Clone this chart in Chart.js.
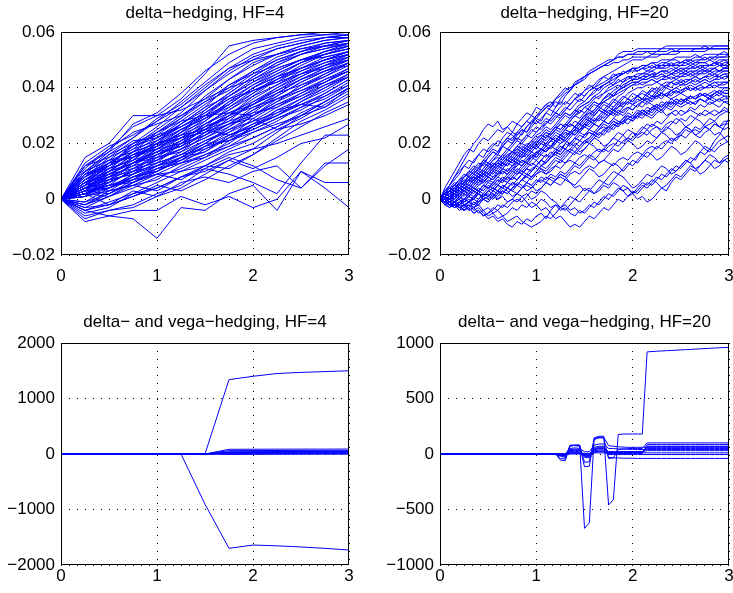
<!DOCTYPE html>
<html>
<head>
<meta charset="utf-8">
<script src="https://cdn.jsdelivr.net/npm/chart.js@4.4.1/dist/chart.umd.min.js"></script>
<style>
  body { margin: 0; background: #fff; }
  #wrap { position: relative; width: 733px; height: 593px; }
  #wrap canvas { position: absolute; }
</style>
</head>
<body>
<div id="wrap">
  <canvas id="tl" width="366" height="296" style="left:0;top:0;width:366px;height:296px"></canvas>
  <canvas id="tr" width="367" height="296" style="left:366px;top:0;width:367px;height:296px"></canvas>
  <canvas id="bl" width="366" height="297" style="left:0;top:296px;width:366px;height:297px"></canvas>
  <canvas id="br" width="367" height="297" style="left:366px;top:296px;width:367px;height:297px"></canvas>
</div>
<script>
// time grids (HF = hedges per unit of time)
const timesHF4 = [0, 0.25, 0.5, 0.75, 1, 1.25, 1.5, 1.75, 2, 2.25, 2.5, 2.75, 3];
const timesHF20 = [0,.05,.1,.15,.2,.25,.3,.35,.4,.45,.5,.55,.6,.65,.7,.75,.8,.85,.9,.95,1,
  1.05,1.1,1.15,1.2,1.25,1.3,1.35,1.4,1.45,1.5,1.55,1.6,1.65,1.7,1.75,1.8,1.85,1.9,1.95,2,
  2.05,2.1,2.15,2.2,2.25,2.3,2.35,2.4,2.45,2.5,2.55,2.6,2.65,2.7,2.75,2.8,2.85,2.9,2.95,3];

const xTicks = [0, 1, 2, 3];
const xLabels = ['0', '1', '2', '3'];
const deltaTicks = [-0.02, 0, 0.02, 0.04, 0.06];
const deltaLabels = ['\u22120.02', '0', '0.02', '0.04', '0.06'];
const vegaTicksHF4 = [-2000, -1000, 0, 1000, 2000];
const vegaLabelsHF4 = ['\u22122000', '\u22121000', '0', '1000', '2000'];
const vegaTicksHF20 = [-1000, -500, 0, 500, 1000];
const vegaLabelsHF20 = ['\u22121000', '\u2212500', '0', '500', '1000'];

// delta-hedging, HF=4
const deltaHF4 = [
  [0,.015,.02,.03,.03,.036,.045,.055,.057,.058,.059,.06,.06],
  [0,.012,.017,.027,.031,.038,.046,.052,.056,.058,.059,.059,.06],
  [0,.009,.016,.022,.028,.035,.042,.049,.054,.056,.058,.059,.059],
  [0,.01,.014,.02,.026,.033,.04,.047,.052,.055,.057,.058,.059],
  [0,.007,.012,.019,.025,.031,.039,.045,.05,.054,.056,.058,.058],
  [0,.005,.011,.017,.024,.03,.036,.043,.049,.052,.055,.057,.058],
  [0,.008,.015,.021,.022,.028,.034,.04,.046,.05,.053,.056,.057],
  [0,.004,.009,.014,.02,.027,.033,.041,.046,.051,.054,.056,.057],
  [0,.006,.01,.016,.019,.024,.032,.038,.044,.049,.053,.055,.056],
  [0,.011,.018,.024,.027,.03,.035,.039,.045,.048,.052,.054,.056],
  [0,.003,.008,.012,.017,.022,.028,.035,.041,.046,.05,.053,.055],
  [0,.006,.009,.013,.015,.021,.027,.032,.038,.043,.048,.052,.054],
  [0,.002,.006,.01,.014,.02,.025,.03,.037,.043,.047,.05,.053],
  [0,.005,.013,.018,.021,.025,.029,.033,.039,.042,.047,.05,.052],
  [0,.001,.004,.009,.012,.017,.023,.029,.034,.04,.045,.049,.052],
  [0,.004,.007,.011,.016,.019,.024,.028,.035,.039,.044,.048,.051],
  [0,.009,.012,.016,.018,.024,.03,.036,.039,.042,.045,.048,.05],
  [0,.003,.005,.008,.011,.015,.02,.026,.031,.037,.042,.046,.049],
  [0,-.002,.002,.006,.01,.014,.019,.024,.03,.035,.041,.045,.049],
  [0,.007,.011,.014,.02,.023,.027,.031,.034,.038,.043,.046,.048],
  [0,.002,.004,.009,.013,.016,.021,.025,.028,.033,.038,.043,.047],
  [0,.005,.008,.012,.014,.018,.022,.027,.029,.034,.037,.042,.046],
  [0,.001,.003,.005,.007,.012,.016,.02,.026,.031,.036,.041,.045],
  [0,.004,.006,.01,.012,.014,.019,.023,.027,.03,.035,.039,.044],
  [0,-.003,.001,.004,.008,.011,.015,.021,.024,.028,.033,.038,.043],
  [0,.006,.009,.011,.013,.016,.018,.022,.025,.029,.032,.037,.042],
  [0,.003,.004,.007,.009,.01,.014,.018,.022,.026,.031,.035,.04],
  [0,-.004,-.001,.002,.004,.008,.012,.017,.02,.025,.029,.034,.039],
  [0,.002,.005,.006,.011,.013,.015,.019,.024,.027,.03,.033,.038],
  [0,.008,.012,.02,.024,.028,.03,.031,.03,.034,.038,.042,.047],
  [0,.012,.018,.026,.03,.032,.036,.04,.043,.047,.05,.051,.053],
  [0,.01,.017,.022,.029,.034,.041,.047,.05,.052,.054,.055,.055],
  [0,.003,.002,.006,.01,.015,.02,.021,.026,.03,.035,.04,.044],
  [0,.005,.01,.013,.018,.02,.025,.031,.035,.04,.044,.048,.052],
  [0,.001,.006,.01,.016,.019,.026,.033,.038,.044,.049,.053,.056],
  [0,-.005,-.003,.002,.006,.01,.012,.016,.018,.02,.023,.026,.029],
  [0,-.004,-.002,.001,.004,.008,.011,.009,.006,.002,.013,.023,.023],
  [0,-.006,-.004,-.002,.002,.005,.011,.015,.012,.007,.004,.013,.013],
  [0,-.004,-.006,-.007,-.014,-.003,-.004,.002,.005,-.004,.01,.006,.006],
  [0,-.008,-.006,-.004,-.004,.001,-.002,.001,-.003,0,.01,.004,-.003],
  [0,-.003,-.002,.003,.001,.006,.008,.006,.01,.012,.004,.012,.018],
  [0,-.007,-.004,-.003,.001,.004,.009,.014,.018,.024,.03,.035,.04],
  [0,.002,-.002,.001,.005,.003,.007,.012,.016,.022,.028,.032,.037],
  [0,.006,.003,.008,.01,.015,.017,.022,.029,.025,.027,.03,.034],
  [0,.004,.008,.015,.02,.023,.025,.023,.026,.032,.034,.033,.04],
  [0,.008,.013,.019,.023,.029,.037,.043,.048,.052,.055,.057,.058],
  [0,.006,.012,.017,.022,.026,.031,.037,.043,.048,.052,.055,.057],
  [0,.002,.007,.013,.019,.025,.03,.034,.04,.045,.049,.052,.054],
  [0,.01,.014,.015,.019,.024,.028,.034,.04,.044,.047,.05,.052],
  [0,.004,.01,.016,.021,.027,.033,.037,.042,.046,.05,.053,.055],
  [0,-.002,.003,.005,.003,.008,.01,.014,.011,.015,.02,.022,.027],
  [0,.002,.001,.006,.009,.007,.012,.011,.016,.021,.026,.031,.035],
  [0,.013,.019,.023,.028,.033,.039,.046,.051,.054,.056,.058,.059],
  [0,.009,.013,.018,.024,.029,.035,.041,.045,.05,.053,.055,.057],
  [0,.007,.013,.015,.021,.026,.03,.037,.042,.047,.05,.052,.055],
  [0,.003,.01,.015,.018,.023,.029,.034,.04,.044,.047,.051,.053],
  [0,.006,.008,.012,.018,.022,.026,.03,.036,.041,.046,.049,.051],
  [0,.002,.005,.011,.015,.018,.024,.03,.033,.037,.042,.046,.05],
  [0,.001,.007,.009,.013,.02,.023,.027,.032,.036,.04,.044,.048],
  [0,.004,.004,.008,.012,.016,.02,.025,.03,.036,.039,.043,.046],
  [0,-.001,.002,.007,.011,.013,.018,.022,.027,.032,.036,.04,.045],
  [0,.005,.007,.009,.015,.017,.021,.024,.028,.031,.034,.038,.043],
  [0,.008,.014,.017,.02,.022,.026,.029,.034,.038,.041,.044,.049],
  [0,.003,.009,.013,.016,.021,.025,.028,.031,.033,.037,.041,.044],
  [0,-.001,.004,.008,.01,.014,.017,.023,.026,.03,.034,.037,.041],
  [0,.01,.016,.02,.023,.026,.031,.036,.041,.045,.049,.052,.054],
  [0,.007,.01,.013,.017,.021,.025,.03,.034,.039,.043,.047,.05],
  [0,.002,.008,.01,.014,.018,.022,.026,.032,.038,.043,.047,.051],
  [0,.005,.011,.014,.017,.019,.023,.027,.03,.035,.039,.042,.046],
  [0,.004,.006,.013,.016,.02,.027,.032,.037,.041,.045,.047,.05],
  [0,.012,.015,.019,.022,.027,.032,.038,.044,.049,.052,.054,.056],
  [0,-.002,.001,.005,.009,.013,.016,.019,.022,.026,.03,.035,.04],
  [0,.006,.012,.016,.019,.022,.024,.027,.033,.036,.04,.045,.049],
  [0,.003,.005,.007,.012,.015,.019,.021,.025,.029,.033,.036,.041],
  [0,.009,.011,.017,.02,.025,.029,.035,.039,.043,.046,.05,.053]
];

// delta-hedging, HF=20
const deltaHF20 = [
  [0,.002,.004,.003,.006,.008,.009,.011,.010,.013,.015,.017,.016,.019,.021,.022,.024,.023,.026,.028,.030,.031,.033,.034,.036,.037,.039,.040,.041,.042,.043,.045,.046,.047,.048,.049,.050,.052,.053,.053,.053,.054,.054,.054,.054,.054,.054,.055,.055,.055,.055,.055,.055,.055,.055,.055,.055,.055,.055,.055,.055],
  [0,.002,.005,.008,.011,.014,.017,.020,.022,.025,.027,.026,.028,.025,.026,.024,.027,.029,.031,.030,.033,.032,.034,.035,.033,.036,.038,.039,.041,.042,.044,.045,.046,.047,.048,.049,.050,.051,.051,.052,.052,.053,.053,.053,.053,.053,.054,.054,.054,.054,.054,.054,.054,.054,.054,.054,.054,.054,.054,.054,.054],
  [0,.001,.003,.005,.004,.006,.008,.007,.009,.011,.013,.012,.014,.016,.018,.017,.019,.021,.023,.022,.024,.026,.027,.029,.031,.030,.032,.034,.036,.037,.039,.040,.041,.043,.044,.045,.046,.047,.048,.049,.050,.050,.050,.051,.051,.051,.052,.052,.052,.052,.053,.053,.053,.053,.053,.053,.054,.054,.054,.054,.054],
  [0,-.001,.001,.002,.004,.003,.005,.007,.006,.008,.010,.009,.011,.013,.012,.014,.016,.015,.017,.019,.021,.020,.022,.024,.026,.025,.027,.029,.031,.033,.034,.035,.037,.038,.040,.041,.042,.044,.045,.046,.047,.047,.048,.048,.049,.048,.049,.049,.050,.050,.049,.050,.050,.051,.051,.050,.051,.051,.052,.052,.052],
  [0,.002,.003,.005,.007,.009,.008,.010,.012,.014,.013,.015,.017,.019,.018,.020,.022,.021,.023,.025,.024,.026,.028,.027,.029,.031,.033,.032,.034,.036,.035,.037,.039,.040,.041,.042,.044,.045,.045,.046,.047,.046,.047,.048,.047,.048,.048,.049,.048,.049,.049,.050,.049,.050,.050,.051,.050,.051,.051,.051,.052],
  [0,.001,0,.002,.003,.002,.004,.006,.005,.007,.009,.011,.010,.012,.014,.013,.015,.017,.016,.018,.020,.022,.021,.023,.025,.024,.026,.028,.030,.029,.031,.033,.035,.034,.036,.038,.037,.039,.041,.042,.043,.043,.044,.045,.044,.045,.046,.046,.045,.046,.047,.046,.047,.047,.048,.047,.048,.048,.049,.048,.049],
  [0,-.002,-.001,-.003,-.001,0,.002,.001,.003,.005,.004,.006,.008,.007,.009,.011,.013,.012,.014,.016,.015,.017,.019,.021,.020,.022,.024,.023,.025,.027,.029,.028,.030,.032,.034,.033,.035,.037,.038,.040,.041,.042,.041,.042,.043,.042,.043,.044,.043,.044,.044,.045,.044,.045,.045,.046,.045,.046,.046,.047,.047],
  [0,.003,.005,.007,.009,.012,.011,.014,.016,.015,.018,.020,.019,.022,.024,.023,.021,.024,.026,.028,.027,.029,.031,.030,.033,.035,.034,.036,.038,.037,.039,.041,.040,.042,.044,.043,.045,.044,.046,.045,.047,.046,.047,.046,.047,.048,.047,.048,.048,.047,.048,.048,.049,.048,.049,.049,.048,.049,.049,.050,.049],
  [0,.001,.002,.001,.003,.005,.004,.006,.008,.010,.009,.011,.013,.012,.014,.013,.015,.017,.019,.018,.020,.022,.024,.023,.025,.027,.026,.028,.030,.032,.031,.033,.035,.034,.036,.038,.037,.039,.040,.041,.042,.042,.043,.043,.044,.043,.044,.044,.045,.044,.045,.045,.046,.045,.046,.046,.046,.047,.046,.047,.047],
  [0,0,-.002,-.001,.001,0,.002,.004,.003,.005,.007,.006,.008,.010,.009,.011,.010,.012,.014,.016,.015,.017,.019,.018,.020,.022,.021,.023,.025,.027,.026,.028,.030,.032,.031,.033,.035,.034,.036,.038,.039,.040,.040,.041,.041,.042,.041,.042,.042,.043,.042,.043,.043,.044,.043,.044,.044,.045,.044,.045,.045],
  [0,.004,.007,.010,.013,.016,.018,.017,.020,.022,.021,.023,.025,.024,.026,.028,.027,.026,.028,.030,.029,.031,.033,.032,.031,.033,.035,.034,.036,.038,.037,.039,.040,.039,.041,.042,.041,.043,.042,.044,.043,.044,.043,.044,.045,.044,.045,.044,.045,.046,.045,.046,.045,.046,.046,.047,.046,.047,.046,.047,.047],
  [0,-.001,-.003,-.002,-.004,-.003,-.001,-.002,0,.002,.001,.003,.005,.004,.006,.008,.007,.009,.011,.010,.012,.014,.016,.015,.017,.019,.018,.020,.022,.024,.023,.025,.027,.026,.028,.030,.032,.031,.033,.035,.034,.035,.036,.036,.037,.037,.038,.037,.038,.039,.038,.039,.040,.039,.040,.040,.041,.040,.041,.041,.042],
  [0,.002,.004,.003,.005,.007,.006,.008,.010,.009,.011,.013,.012,.014,.016,.015,.017,.016,.018,.020,.019,.021,.023,.022,.024,.023,.025,.027,.026,.028,.030,.029,.031,.033,.032,.034,.033,.035,.037,.036,.038,.037,.039,.038,.040,.039,.041,.040,.042,.041,.042,.041,.042,.043,.042,.043,.042,.043,.044,.043,.044],
  [0,-.002,-.003,-.001,-.002,0,-.001,.001,.003,.002,.004,.003,.005,.007,.006,.008,.010,.009,.011,.013,.012,.014,.016,.015,.017,.019,.018,.020,.022,.021,.023,.025,.024,.026,.028,.027,.029,.031,.030,.032,.034,.033,.035,.036,.035,.037,.038,.037,.039,.040,.039,.040,.041,.040,.041,.042,.041,.042,.042,.042,.042],
  [0,.001,.003,.005,.004,.006,.008,.010,.009,.011,.013,.012,.014,.016,.015,.017,.019,.018,.020,.019,.021,.023,.022,.024,.026,.025,.027,.026,.028,.027,.029,.031,.030,.032,.031,.033,.032,.034,.033,.035,.034,.036,.035,.037,.036,.038,.037,.038,.039,.038,.039,.040,.039,.040,.039,.040,.040,.041,.040,.040,.040],
  [0,0,.001,-.001,0,.002,.001,.003,.002,.004,.006,.005,.007,.006,.008,.010,.009,.011,.013,.012,.014,.016,.015,.017,.016,.018,.020,.019,.021,.023,.022,.024,.023,.025,.027,.026,.028,.027,.029,.031,.030,.032,.031,.033,.032,.034,.033,.035,.034,.036,.035,.036,.037,.036,.037,.038,.037,.038,.039,.038,.038],
  [0,.002,.001,.003,.005,.004,.006,.008,.007,.009,.008,.010,.012,.011,.013,.015,.014,.016,.018,.017,.019,.021,.020,.022,.021,.023,.025,.024,.026,.025,.027,.029,.028,.030,.029,.031,.030,.032,.031,.033,.032,.034,.033,.035,.034,.033,.035,.034,.036,.035,.034,.036,.035,.034,.036,.035,.037,.036,.035,.036,.036],
  [0,-.001,-.002,-.003,-.002,-.004,-.003,-.005,-.004,-.006,-.005,-.003,-.004,-.002,-.003,-.001,0,-.001,.001,.003,.002,.004,.006,.005,.007,.009,.008,.010,.012,.011,.013,.015,.014,.016,.018,.017,.019,.021,.020,.022,.024,.023,.025,.027,.026,.028,.027,.029,.031,.030,.032,.031,.033,.032,.034,.033,.035,.034,.033,.035,.034],
  [0,-.001,0,-.002,-.001,-.003,-.002,-.004,-.003,-.005,-.007,-.006,-.008,-.007,-.009,-.010,-.008,-.009,-.007,-.008,-.006,-.005,-.007,-.004,-.002,-.003,-.001,.001,0,.002,.004,.003,.005,.007,.006,.008,.010,.009,.011,.013,.012,.014,.016,.015,.017,.019,.018,.020,.022,.021,.023,.025,.024,.026,.025,.027,.029,.028,.030,.031,.032],
  [0,.001,-.001,0,-.002,-.001,.001,0,.002,.001,.003,.002,0,.001,-.001,0,.002,.001,-.001,-.003,-.002,-.004,-.003,-.005,-.007,-.006,-.008,-.010,-.009,-.010,-.008,-.006,-.007,-.005,-.003,-.004,-.002,0,-.001,.001,.003,.002,.004,.006,.005,.007,.009,.008,.010,.012,.011,.013,.015,.014,.017,.019,.018,.021,.023,.026,.029],
  [0,-.001,-.002,-.001,-.003,-.002,-.004,-.003,-.002,-.004,-.003,-.005,-.004,-.006,-.005,-.003,-.004,-.002,-.003,-.001,-.002,0,-.001,-.003,-.002,-.004,-.003,-.005,-.006,-.004,-.005,-.003,-.001,-.002,0,.002,.001,.003,.005,.004,.002,0,.001,-.001,0,.002,.004,.003,.006,.008,.007,.009,.011,.010,.012,.014,.013,.011,.012,.014,.013],
  [0,-.001,0,-.002,-.003,-.002,-.004,-.003,-.005,-.004,-.006,-.005,-.007,-.006,-.008,-.007,-.006,-.008,-.009,-.010,-.009,-.008,-.006,-.007,-.005,-.003,-.004,-.002,0,-.001,.001,.003,.002,.004,.006,.005,.007,.009,.008,.006,.004,.005,.007,.009,.008,.010,.012,.011,.009,.010,.012,.014,.013,.011,.012,.014,.016,.015,.013,.014,.015],
  [0,0,-.001,.001,0,-.002,-.001,.001,.002,0,.001,.003,.002,.004,.003,.001,.002,.004,.006,.005,.003,.004,.006,.008,.007,.009,.008,.006,.005,.007,.009,.011,.010,.008,.009,.011,.013,.012,.010,.012,.014,.013,.015,.017,.016,.014,.015,.017,.019,.018,.016,.017,.019,.021,.020,.018,.017,.019,.021,.022,.020],
  [0,.001,.002,.004,.003,.005,.007,.006,.008,.007,.009,.008,.010,.009,.011,.010,.012,.014,.013,.015,.014,.012,.013,.015,.017,.016,.018,.020,.019,.017,.018,.020,.022,.021,.019,.020,.022,.024,.023,.021,.022,.024,.026,.025,.023,.022,.024,.026,.025,.023,.024,.026,.025,.023,.022,.024,.025,.023,.024,.022,.023],
  [0,-.002,-.001,-.003,-.002,0,-.001,.001,0,.002,.001,.003,.005,.004,.006,.005,.007,.009,.008,.010,.012,.011,.009,.010,.012,.014,.013,.015,.017,.016,.018,.020,.019,.017,.018,.020,.022,.021,.023,.025,.024,.022,.023,.025,.027,.026,.024,.025,.027,.029,.028,.026,.027,.029,.028,.026,.027,.028,.026,.027,.027],
  [0,.001,.003,.002,.004,.006,.005,.007,.009,.008,.010,.012,.011,.013,.015,.014,.016,.015,.017,.019,.018,.020,.019,.021,.023,.022,.024,.023,.025,.024,.026,.025,.027,.026,.028,.027,.029,.028,.027,.029,.030,.029,.031,.030,.029,.031,.032,.030,.031,.032,.030,.031,.032,.031,.030,.032,.031,.030,.031,.032,.031],
  [0,.003,.005,.008,.010,.012,.014,.013,.016,.018,.017,.019,.021,.020,.022,.024,.023,.025,.024,.026,.028,.027,.029,.028,.030,.029,.031,.030,.032,.031,.033,.032,.034,.033,.035,.034,.036,.035,.034,.036,.035,.037,.036,.035,.037,.036,.038,.037,.036,.037,.038,.037,.036,.037,.038,.037,.036,.037,.038,.037,.037],
  [0,.001,.002,.004,.006,.005,.007,.009,.011,.010,.012,.014,.016,.015,.017,.019,.021,.020,.022,.024,.026,.025,.027,.029,.031,.030,.032,.034,.036,.035,.037,.039,.040,.041,.042,.043,.044,.045,.045,.046,.046,.046,.047,.047,.048,.047,.048,.048,.049,.048,.049,.049,.050,.049,.050,.050,.051,.050,.051,.051,.051],
  [0,0,.001,0,.002,.001,.003,.002,.004,.003,.005,.004,.006,.008,.007,.009,.011,.010,.012,.014,.016,.018,.017,.019,.021,.023,.025,.024,.026,.028,.030,.032,.031,.033,.035,.036,.038,.039,.040,.041,.042,.042,.043,.043,.044,.044,.045,.044,.045,.045,.046,.045,.046,.046,.047,.046,.047,.047,.048,.047,.048],
  [0,.002,.004,.006,.005,.008,.010,.012,.011,.014,.016,.018,.017,.020,.022,.021,.024,.026,.028,.027,.030,.032,.034,.033,.036,.038,.040,.039,.042,.043,.044,.045,.046,.047,.048,.048,.049,.049,.050,.050,.051,.051,.051,.051,.052,.052,.052,.052,.053,.053,.053,.053,.053,.054,.054,.054,.054,.054,.054,.054,.054],
  [0,-.001,.001,0,.002,.004,.003,.005,.007,.006,.008,.010,.009,.011,.013,.012,.014,.016,.015,.017,.016,.018,.020,.019,.021,.023,.022,.024,.026,.025,.027,.029,.028,.030,.032,.031,.033,.035,.034,.036,.035,.037,.036,.038,.037,.039,.038,.040,.039,.040,.041,.041,.042,.041,.042,.043,.042,.043,.043,.044,.044],
  [0,.001,0,.002,.001,-.001,0,-.002,-.001,.001,0,.002,.001,.003,.002,.004,.006,.005,.003,.004,.006,.008,.007,.009,.008,.010,.009,.011,.013,.012,.014,.016,.015,.013,.014,.016,.018,.017,.019,.021,.020,.018,.019,.021,.020,.022,.024,.023,.021,.022,.024,.026,.025,.023,.024,.026,.025,.027,.026,.025,.026],
  [0,.002,.001,.003,.002,.004,.003,.005,.007,.006,.008,.007,.009,.011,.010,.012,.014,.013,.015,.017,.019,.018,.020,.022,.021,.023,.025,.027,.026,.028,.030,.031,.032,.034,.035,.036,.037,.038,.039,.040,.041,.041,.042,.042,.043,.042,.043,.043,.044,.043,.044,.044,.045,.044,.045,.045,.046,.045,.046,.046,.046],
  [0,-.002,-.001,-.003,-.002,-.004,-.002,-.003,-.001,0,-.001,.001,.003,.002,.004,.006,.005,.007,.009,.008,.010,.012,.011,.013,.015,.014,.016,.018,.017,.019,.021,.020,.022,.024,.023,.025,.027,.026,.028,.030,.029,.031,.030,.032,.031,.033,.032,.034,.033,.035,.034,.035,.034,.035,.036,.035,.034,.035,.036,.035,.035],
  [0,-.001,-.002,-.001,-.003,-.002,-.001,-.003,-.002,0,-.001,.001,0,.002,.004,.003,.005,.007,.009,.008,.010,.012,.014,.016,.018,.017,.020,.022,.024,.026,.028,.030,.032,.034,.036,.037,.039,.040,.042,.043,.044,.044,.045,.045,.046,.045,.046,.046,.047,.046,.047,.047,.048,.047,.048,.048,.048,.049,.048,.049,.049],
  [0,.002,.003,.005,.007,.006,.009,.011,.013,.012,.015,.017,.016,.019,.021,.020,.023,.025,.024,.027,.029,.028,.031,.033,.035,.034,.037,.039,.041,.043,.044,.046,.047,.048,.049,.050,.050,.051,.051,.052,.052,.052,.052,.053,.052,.053,.053,.053,.054,.053,.054,.054,.054,.054,.054,.055,.054,.055,.055,.055,.055],
  [0,.001,0,.002,.001,.003,.002,.004,.003,.005,.004,.006,.005,.007,.006,.008,.007,.009,.011,.010,.012,.014,.013,.015,.017,.016,.018,.017,.019,.021,.020,.022,.024,.023,.025,.024,.026,.028,.027,.029,.028,.030,.032,.031,.033,.032,.034,.033,.035,.034,.036,.035,.037,.036,.038,.037,.036,.038,.037,.039,.039],
  [0,0,-.002,-.001,-.003,-.004,-.003,-.005,-.004,-.006,-.005,-.004,-.002,-.003,-.001,0,-.001,.001,.002,0,.001,.003,.002,0,-.001,-.003,-.002,-.004,-.003,-.005,-.004,-.002,-.003,-.001,.001,0,.002,.004,.003,.001,.002,.004,.006,.005,.007,.006,.004,.005,.007,.009,.008,.010,.012,.011,.009,.010,.012,.014,.013,.015,.016],
  [0,.001,.002,.003,.002,.004,.005,.004,.006,.007,.006,.008,.009,.011,.010,.012,.013,.012,.014,.015,.017,.016,.018,.019,.021,.020,.022,.024,.023,.025,.026,.028,.027,.029,.031,.030,.032,.033,.035,.034,.036,.037,.036,.038,.039,.038,.040,.041,.040,.042,.041,.042,.043,.042,.043,.044,.043,.044,.044,.045,.044],
  [0,.002,.001,.003,.004,.006,.005,.007,.008,.010,.009,.011,.013,.012,.014,.016,.017,.019,.018,.020,.022,.023,.025,.024,.026,.028,.030,.029,.031,.033,.034,.035,.037,.036,.038,.039,.040,.041,.040,.042,.043,.043,.044,.044,.045,.045,.046,.045,.046,.047,.046,.047,.047,.048,.047,.048,.048,.049,.048,.048,.048],
  [0,-.001,0,.001,0,.002,.001,.003,.002,.001,.003,.004,.003,.005,.004,.006,.005,.007,.008,.007,.009,.010,.009,.011,.012,.011,.013,.014,.013,.015,.016,.015,.017,.018,.017,.019,.020,.019,.021,.022,.021,.023,.024,.023,.025,.026,.025,.027,.028,.027,.029,.028,.030,.029,.031,.030,.031,.032,.031,.033,.032],
  [0,.001,.003,.004,.006,.005,.007,.009,.008,.010,.012,.011,.013,.015,.014,.016,.018,.017,.019,.021,.020,.022,.024,.023,.025,.027,.026,.028,.030,.031,.033,.034,.036,.037,.038,.040,.041,.042,.043,.044,.044,.045,.045,.046,.046,.047,.047,.047,.048,.048,.048,.049,.048,.049,.049,.049,.050,.049,.050,.050,.050],
  [0,-.001,-.002,-.001,-.003,-.002,-.003,-.001,-.002,0,.001,0,.002,.003,.002,.004,.005,.007,.006,.008,.009,.011,.010,.012,.014,.013,.015,.017,.016,.018,.020,.021,.023,.022,.024,.026,.025,.027,.028,.027,.029,.030,.031,.030,.032,.033,.032,.034,.035,.034,.036,.035,.037,.036,.038,.037,.038,.039,.038,.040,.040],
  [0,.002,.003,.002,.004,.006,.007,.006,.008,.009,.011,.010,.012,.013,.012,.014,.013,.015,.016,.015,.017,.018,.017,.019,.018,.020,.021,.020,.022,.021,.023,.024,.023,.025,.026,.025,.027,.026,.028,.029,.028,.030,.029,.031,.030,.032,.031,.033,.032,.034,.033,.034,.035,.034,.036,.035,.036,.035,.036,.037,.036],
  [0,0,.001,.002,.001,.003,.004,.003,.005,.006,.008,.007,.009,.010,.009,.011,.012,.014,.013,.015,.016,.018,.017,.019,.020,.022,.021,.023,.025,.024,.026,.027,.029,.028,.030,.032,.031,.033,.034,.036,.035,.037,.038,.037,.039,.040,.039,.041,.042,.041,.043,.042,.043,.044,.043,.044,.045,.044,.045,.046,.046],
  [0,.001,0,-.001,0,-.002,-.001,0,-.001,.001,.002,.001,.003,.002,.004,.003,.002,.004,.005,.004,.006,.007,.006,.005,.007,.008,.007,.009,.010,.009,.011,.012,.011,.013,.014,.013,.012,.014,.015,.014,.016,.017,.016,.018,.019,.018,.020,.021,.020,.022,.023,.022,.024,.025,.024,.026,.025,.027,.026,.028,.028],
  [0,.001,.002,.004,.003,.005,.007,.008,.007,.009,.011,.012,.014,.013,.015,.017,.018,.020,.019,.021,.023,.024,.026,.025,.027,.029,.031,.030,.032,.034,.035,.037,.038,.040,.041,.042,.043,.044,.045,.046,.047,.047,.048,.048,.049,.049,.050,.050,.050,.051,.051,.051,.051,.052,.051,.052,.052,.052,.052,.053,.052],
  [0,.002,.004,.005,.007,.008,.010,.009,.011,.013,.012,.014,.015,.014,.016,.017,.016,.018,.017,.019,.018,.020,.019,.021,.022,.021,.023,.024,.023,.025,.027,.026,.028,.029,.028,.030,.031,.030,.032,.033,.032,.034,.035,.034,.036,.037,.036,.038,.037,.039,.038,.040,.039,.040,.041,.040,.041,.042,.041,.042,.042],
  [0,0,-.001,-.002,-.001,0,.001,0,.002,.001,.003,.004,.003,.005,.004,.006,.005,.004,.006,.005,.007,.006,.008,.007,.006,.005,.007,.006,.004,.005,.003,.004,.002,.003,.005,.004,.006,.005,.003,.004,.002,.003,.005,.004,.006,.008,.007,.009,.011,.010,.012,.014,.013,.015,.017,.016,.018,.017,.019,.020,.021],
  [0,.001,0,.001,.002,.003,.002,.004,.003,.005,.004,.005,.007,.006,.008,.007,.009,.010,.009,.011,.012,.014,.013,.015,.016,.015,.017,.018,.020,.019,.021,.022,.024,.023,.025,.026,.028,.027,.029,.030,.029,.031,.032,.031,.033,.034,.033,.035,.034,.036,.035,.036,.037,.036,.037,.038,.037,.038,.039,.038,.038]
];

// delta- and vega-hedging, HF=4
const vegaHF4 = [
  [0,0,0,0,0,0,0,1340,1400,1450,1470,1485,1500],
  [0,0,0,0,0,0,-905,-1700,-1640,-1655,-1675,-1700,-1730],
  [0,0,0,0,0,0,0,85,86,87,88,88,89],
  [0,0,0,0,0,0,0,60,62,63,65,66,66],
  [0,0,0,0,0,0,0,40,42,44,45,46,47],
  [0,0,0,0,0,0,0,25,27,28,30,30,31],
  [0,0,0,0,0,0,0,12,14,15,16,17,18],
  [0,0,0,0,0,0,0,5,6,7,8,8,9],
  [0,0,0,0,0,0,-5,30,35,38,40,42,43],
  [0,0,0,0,0,0,0,-8,-6,-5,-4,-3,-3]
];

// delta- and vega-hedging, HF=20
const vegaHF20 = [
  [0,0,0,0,0,0,0,0,0,0,0,0,0,0,0,0,0,0,0,0,0,0,0,0,0,
   -40,-45,80,80,80,-670,-620,145,160,160,-460,-410,175,180,180,180,180,180,920,923,
   926,928,931,933,935,938,940,942,945,947,950,952,955,957,959,960],
  [0,0,0,0,0,0,0,0,0,0,0,0,0,0,0,0,0,0,0,0,0,0,0,0,0,
   -20,-30,75,75,70,-115,-110,140,150,150,75,70,65,62,60,60,60,60,60,60,
   60,60,60,60,60,60,60,60,60,60,60,60,60,60,60,60],
  [0,0,0,0,0,0,0,0,0,0,0,0,0,0,0,0,0,0,0,0,0,0,0,0,0,
   -55,-60,70,80,80,-75,-70,130,145,145,-40,-35,40,45,48,50,50,50,100,100,
   100,100,100,100,100,100,100,100,100,100,100,100,100,100,100,100],
  [0,0,0,0,0,0,0,0,0,0,0,0,0,0,0,0,0,0,0,0,0,0,0,0,0,
   -10,-15,40,45,40,-30,-35,60,70,70,-30,-35,-35,-38,-38,-38,-40,-40,-40,-40,
   -40,-40,-40,-40,-40,-40,-40,-40,-40,-40,-40,-40,-40,-40,-40,-40],
  [0,0,0,0,0,0,0,0,0,0,0,0,0,0,0,0,0,0,0,0,0,0,0,0,0,
   0,0,50,55,50,20,20,80,90,90,50,50,45,45,42,42,40,40,40,40,
   40,40,40,40,40,40,40,40,40,40,40,40,40,40,40,40],
  [0,0,0,0,0,0,0,0,0,0,0,0,0,0,0,0,0,0,0,0,0,0,0,0,0,
   0,0,10,12,10,5,5,30,35,35,20,20,18,18,20,20,20,20,30,30,
   30,30,30,30,30,30,30,30,30,30,30,30,30,30,30,30],
  [0,0,0,0,0,0,0,0,0,0,0,0,0,0,0,0,0,0,0,0,0,0,0,0,0,
   -5,-8,20,25,20,-10,-10,40,45,45,10,10,12,12,12,12,12,12,70,70,
   70,70,70,70,70,70,70,70,70,70,70,70,70,70,70,70],
  [0,0,0,0,0,0,0,0,0,0,0,0,0,0,0,0,0,0,0,0,0,0,0,0,0,
   0,0,5,5,5,0,0,15,20,20,8,8,8,8,10,10,10,10,10,10,
   10,10,10,10,10,10,10,10,10,10,10,10,10,10,10,10],
  [0,0,0,0,0,0,0,0,0,0,0,0,0,0,0,0,0,0,0,0,0,0,0,0,0,
   -15,-20,30,35,30,-20,-25,50,60,60,20,20,22,22,22,22,22,22,50,50,
   50,50,50,50,50,50,50,50,50,50,50,50,50,50,50,50],
  [0,0,0,0,0,0,0,0,0,0,0,0,0,0,0,0,0,0,0,0,0,0,0,0,0,
   0,0,0,0,0,0,0,10,10,10,5,5,5,5,5,5,5,5,85,85,
   85,85,85,85,85,85,85,85,85,85,85,85,85,85,85,85],
  [0,0,0,0,0,0,0,0,0,0,0,0,0,0,0,0,0,0,0,0,0,0,0,0,0,
   -3,-5,10,10,10,-8,-8,20,25,25,-5,-5,-5,-5,-5,-5,-5,-5,-5,-5,
   -5,-5,-5,-5,-5,-5,-5,-5,-5,-5,-5,-5,-5,-5,-5,-5],
  [0,0,0,0,0,0,0,0,0,0,0,0,0,0,0,0,0,0,0,0,0,0,0,0,0,
   -8,-10,30,35,30,-15,-15,45,50,50,15,15,15,15,15,15,15,15,65,65,
   65,65,65,65,65,65,65,65,65,65,65,65,65,65,65,65]
];

const FONT = '"Liberation Sans", Arial, Helvetica, sans-serif';

// MATLAB-like closed axes box
const axesBox = {
  id: 'axesBox',
  afterDatasetsDraw(chart) {
    const a = chart.chartArea, ctx = chart.ctx;
    ctx.save();
    ctx.strokeStyle = '#000';
    ctx.lineWidth = 1;
    ctx.strokeRect(Math.round(a.left) + 0.5, Math.round(a.top) + 0.5,
      Math.round(a.right - a.left) - 1, Math.round(a.bottom - a.top) - 1);
    ctx.restore();
  }
};

function makePanel(id, p) {
  const datasets = p.paths.map(path => ({
    data: path.map((v, i) => ({ x: p.times[i], y: v })),
    borderColor: '#0000ff',
    borderWidth: 1,
    pointRadius: 0,
    fill: false,
    tension: 0
  }));
  return new Chart(document.getElementById(id), {
    type: 'line',
    data: { datasets },
    plugins: [axesBox],
    options: {
      responsive: false,
      animation: false,
      events: [],
      layout: { padding: { left: 0, top: 0, bottom: 0, right: p.padRight } },
      plugins: {
        legend: { display: false },
        tooltip: { enabled: false },
        title: {
          display: true, text: p.title, fullSize: false, color: '#000',
          font: { family: FONT, size: 17, weight: 'normal' },
          padding: { top: p.titleTop, bottom: p.titleBottom }
        }
      },
      scales: {
        x: {
          type: 'linear', min: 0, max: 3,
          afterBuildTicks: s => { s.ticks = xTicks.map(v => ({ value: v })); },
          afterFit: s => { s.height = p.xHeight; s.paddingLeft = 0; s.paddingRight = 0; },
          ticks: { autoSkip: false, maxRotation: 0, padding: p.xPad, color: '#000',
            font: { family: FONT, size: 17 }, callback: (v, i) => xLabels[i] },
          grid: { color: '#000', drawTicks: false },
          border: { display: false, dash: [1, 7] }
        },
        y: {
          min: p.yTicks[0], max: p.yTicks[p.yTicks.length - 1],
          afterBuildTicks: s => { s.ticks = p.yTicks.map(v => ({ value: v })); },
          afterFit: s => { s.width = p.yWidth; },
          ticks: { autoSkip: false, padding: p.yPad, color: '#000',
            font: { family: FONT, size: 17 }, callback: (v, i) => p.yLabels[i] },
          grid: { color: '#000', drawTicks: false },
          border: { display: false, dash: [1, 7] }
        }
      }
    }
  });
}

makePanel('tl', { title: 'delta\u2212hedging, HF=4', times: timesHF4, paths: deltaHF4,
  yTicks: deltaTicks, yLabels: deltaLabels, yWidth: 61, yPad: 6, xHeight: 41, xPad: 11,
  padRight: 17, titleTop: 3, titleBottom: 8.6 });
makePanel('tr', { title: 'delta\u2212hedging, HF=20', times: timesHF20, paths: deltaHF20,
  yTicks: deltaTicks, yLabels: deltaLabels, yWidth: 74, yPad: 9, xHeight: 41, xPad: 11,
  padRight: 4, titleTop: 3, titleBottom: 8.6 });
makePanel('bl', { title: 'delta\u2212 and vega\u2212hedging, HF=4', times: timesHF4, paths: vegaHF4,
  yTicks: vegaTicksHF4, yLabels: vegaLabelsHF4, yWidth: 61, yPad: 6, xHeight: 28, xPad: 1,
  padRight: 17, titleTop: 16.3, titleBottom: 10.3 });
makePanel('br', { title: 'delta\u2212 and vega\u2212hedging, HF=20', times: timesHF20, paths: vegaHF20,
  yTicks: vegaTicksHF20, yLabels: vegaLabelsHF20, yWidth: 74, yPad: 6, xHeight: 28, xPad: 1,
  padRight: 4, titleTop: 16.3, titleBottom: 10.3 });
</script>
</body>
</html>
